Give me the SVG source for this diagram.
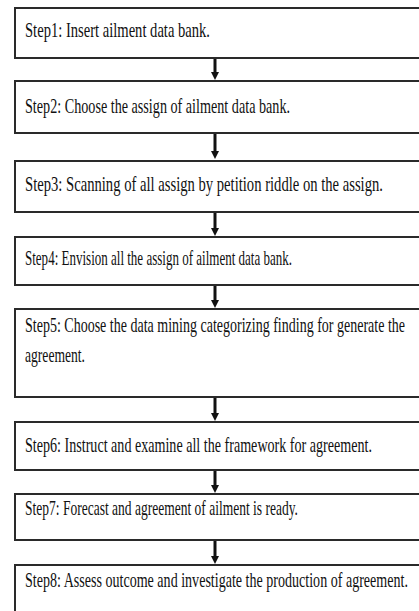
<svg xmlns="http://www.w3.org/2000/svg" width="419" height="611" viewBox="0 0 419 611">
<style>
.box{fill:#fff;stroke:#2a2a2a;stroke-width:2}
.t{font-family:"Liberation Serif","Times New Roman",serif;font-size:20px;fill:#111}
.c{stroke:#111;stroke-width:3;fill:none}
.h{fill:#111}
</style>
<rect width="419" height="611" fill="#fff"/>
<g id="connectors">
<line class="c" x1="215" y1="58" x2="215" y2="73"/><polygon class="h" points="211,72 219,72 215,80"/>
<line class="c" x1="215" y1="133" x2="215" y2="152"/><polygon class="h" points="211,151 219,151 215,159"/>
<line class="c" x1="215" y1="212" x2="215" y2="229"/><polygon class="h" points="211,228 219,228 215,236"/>
<line class="c" x1="215" y1="285" x2="215" y2="301"/><polygon class="h" points="211,300 219,300 215,308"/>
<line class="c" x1="215" y1="397" x2="215" y2="414"/><polygon class="h" points="211,413 219,413 215,421"/>
<line class="c" x1="215" y1="470" x2="215" y2="486"/><polygon class="h" points="211,485 219,485 215,493"/>
<line class="c" x1="215" y1="540" x2="215" y2="557"/><polygon class="h" points="211,556 219,556 215,564"/>
</g>
<g id="step1"><rect class="box" x="15" y="8" width="406" height="50"/><text class="t" transform="translate(25,37) scale(0.7,1)" textLength="264.3" lengthAdjust="spacingAndGlyphs">Step1: Insert ailment data bank.</text></g>
<g id="step2"><rect class="box" x="15" y="81" width="406" height="52"/><text class="t" transform="translate(25,113) scale(0.7,1)" textLength="378.6" lengthAdjust="spacingAndGlyphs">Step2: Choose the assign of ailment data bank.</text></g>
<g id="step3"><rect class="box" x="15" y="161" width="406" height="51"/><text class="t" transform="translate(25,191) scale(0.7,1)" textLength="511.4" lengthAdjust="spacingAndGlyphs">Step3: Scanning of all assign by petition riddle on the assign.</text></g>
<g id="step4"><rect class="box" x="15" y="237" width="406" height="48"/><text class="t" transform="translate(25,265) scale(0.7,1)" textLength="381.4" lengthAdjust="spacingAndGlyphs">Step4: Envision all the assign of ailment data bank.</text></g>
<g id="step5"><rect class="box" x="15" y="309" width="406" height="88"/><text class="t" transform="translate(25,332) scale(0.7,1)" textLength="542.9" lengthAdjust="spacingAndGlyphs">Step5: Choose the data mining categorizing finding for generate the</text><text class="t" transform="translate(25,362) scale(0.7,1)" textLength="85.7" lengthAdjust="spacingAndGlyphs">agreement.</text></g>
<g id="step6"><rect class="box" x="15" y="422" width="406" height="48"/><text class="t" transform="translate(25,452) scale(0.7,1)" textLength="495.7" lengthAdjust="spacingAndGlyphs">Step6: Instruct and examine all the framework for agreement.</text></g>
<g id="step7"><rect class="box" x="15" y="494" width="406" height="46"/><text class="t" transform="translate(25,515) scale(0.7,1)" textLength="390" lengthAdjust="spacingAndGlyphs">Step7: Forecast and agreement of ailment is ready.</text></g>
<g id="step8"><rect class="box" x="15" y="565" width="406" height="48"/><text class="t" transform="translate(25,587) scale(0.7,1)" textLength="547.1" lengthAdjust="spacingAndGlyphs">Step8: Assess outcome and investigate the production of agreement.</text></g>
</svg>
